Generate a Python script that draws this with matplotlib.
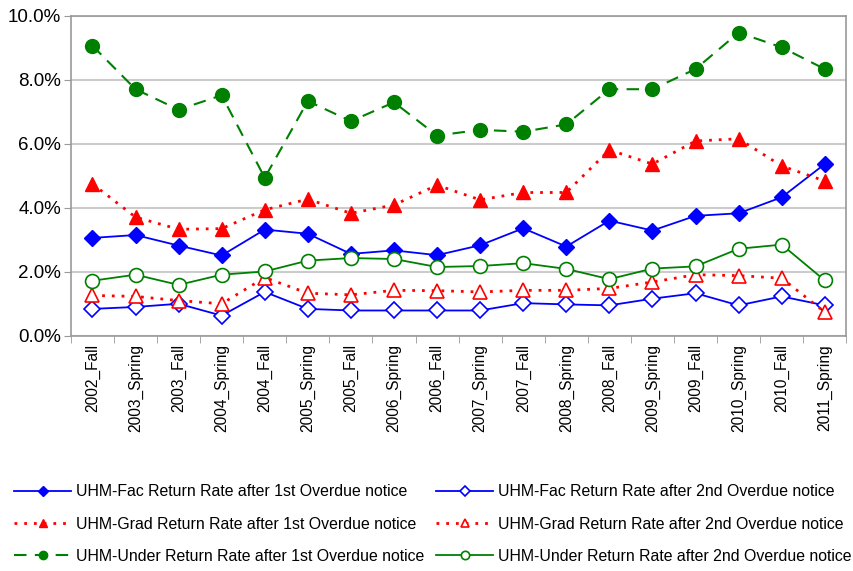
import matplotlib.pyplot as plt
from matplotlib.ticker import FuncFormatter, FixedLocator
import numpy as np

plt.rcParams['font.family'] = ['Liberation Sans', 'DejaVu Sans']

terms = ["2002_Fall", "2003_Spring", "2003_Fall", "2004_Spring", "2004_Fall",
         "2005_Spring", "2005_Fall", "2006_Spring", "2006_Fall", "2007_Spring",
         "2007_Fall", "2008_Spring", "2008_Fall", "2009_Spring", "2009_Fall",
         "2010_Spring", "2010_Fall", "2011_Spring"]

# return rates in percent
fac_1st = [3.06, 3.15, 2.82, 2.51, 3.32, 3.19, 2.56, 2.67, 2.52, 2.83,
           3.36, 2.79, 3.60, 3.29, 3.75, 3.83, 4.33, 5.37]
fac_2nd = [0.84, 0.90, 1.00, 0.63, 1.37, 0.84, 0.79, 0.79, 0.79, 0.79,
           1.02, 0.98, 0.95, 1.16, 1.33, 0.95, 1.23, 0.95]
grad_1st = [4.75, 3.71, 3.33, 3.35, 3.94, 4.27, 3.83, 4.09, 4.71, 4.25,
            4.48, 4.48, 5.81, 5.37, 6.09, 6.16, 5.31, 4.84]
grad_2nd = [1.26, 1.23, 1.10, 1.00, 1.82, 1.33, 1.28, 1.42, 1.41, 1.37,
            1.42, 1.42, 1.48, 1.68, 1.91, 1.88, 1.80, 0.74]
under_1st = [9.07, 7.71, 7.07, 7.52, 4.94, 7.34, 6.71, 7.30, 6.26, 6.44,
             6.38, 6.61, 7.71, 7.71, 8.34, 9.48, 9.02, 8.34]
under_2nd = [1.72, 1.91, 1.59, 1.91, 2.01, 2.35, 2.43, 2.40, 2.15, 2.18,
             2.27, 2.09, 1.77, 2.10, 2.17, 2.72, 2.85, 1.73]

blue, red, green = "#0000FF", "#FF0000", "#008000"

fig = plt.figure(figsize=(8.54, 5.71), dpi=100)
ax = fig.add_axes([0.083, 0.412, 0.908, 0.56])
x = np.arange(len(terms))

h_fac1, = ax.plot(x, fac_1st, color=blue, lw=1.3, marker="D", ms=8,
                  label="UHM-Fac Return Rate after 1st Overdue notice")
h_fac2, = ax.plot(x, fac_2nd, color=blue, lw=1.3, marker="D", ms=8, mfc="white",
                  mew=1.2, label="UHM-Fac Return Rate after 2nd Overdue notice")
h_grad1, = ax.plot(x, grad_1st, color=red, lw=2, ls=(0, (1, 2.5)), marker="^", ms=10.5,
                   label="UHM-Grad Return Rate after 1st Overdue notice")
h_grad2, = ax.plot(x, grad_2nd, color=red, lw=2, ls=(0, (1, 2.5)), marker="^", ms=10.5,
                   mfc="white", mew=1.2,
                   label="UHM-Grad Return Rate after 2nd Overdue notice")
h_und1, = ax.plot(x, under_1st, color=green, lw=1.5, ls=(0, (6, 4)), marker="o", ms=10,
                  label="UHM-Under Return Rate after 1st Overdue notice")
h_und2, = ax.plot(x, under_2nd, color=green, lw=1.3, marker="o", ms=10, mfc="white",
                  mew=1.2, label="UHM-Under Return Rate after 2nd Overdue notice")

ax.set_xlim(-0.5, len(terms) - 0.5)
ax.set_ylim(0, 10)
ax.set_yticks(np.arange(0, 10.1, 2))
ax.yaxis.set_major_formatter(FuncFormatter(lambda v, p: f"{v:.1f}%"))
ax.set_xticks(x)
ax.set_xticklabels(terms, rotation=90, fontsize=11.2)
ax.xaxis.set_minor_locator(FixedLocator(np.arange(-0.5, len(terms), 1)))
ax.tick_params(axis="x", which="major", length=0, pad=6)
ax.tick_params(axis="x", which="minor", length=5, color="#999999")
ax.tick_params(axis="y", length=5, color="#999999", labelsize=13.5, pad=2)
ax.grid(axis="y", color="#cccccc", lw=1.5)
ax.set_axisbelow(True)
for s in ax.spines.values():
    s.set_color("#999999")
    s.set_linewidth(1.2)

handles = [h_fac1, h_grad1, h_und1, h_fac2, h_grad2, h_und2]
fig.legend(handles=handles, labels=[h.get_label() for h in handles], ncol=2,
           loc="lower left", bbox_to_anchor=(0.0, -0.012), frameon=False,
           fontsize=11.4, handlelength=3.6, markerscale=0.6, columnspacing=0.75,
           handletextpad=0.3, labelspacing=1.08)

fig.savefig("out.png", dpi=100)
